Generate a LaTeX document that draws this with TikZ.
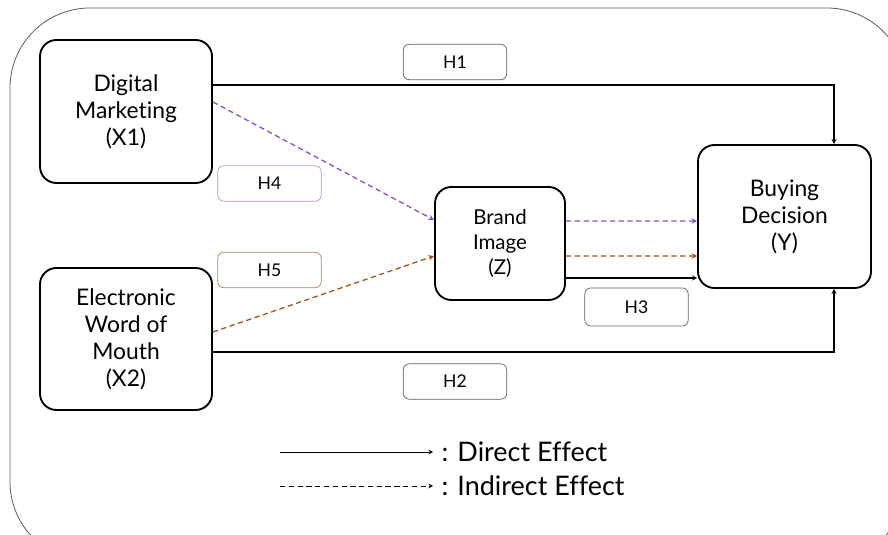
\documentclass[tikz,border=0pt]{standalone}
\usepackage{fontspec}
\setmainfont{Lato}[RawFeature=-liga]
\usepackage{tikz}
\usetikzlibrary{positioning, arrows, calc}

\definecolor{ljub}{RGB}{136,78,196}
\definecolor{ljubsv}{RGB}{180,145,215}
\definecolor{smedja}{RGB}{163,82,28}
\definecolor{smedjasv}{RGB}{185,125,88}
\definecolor{okvir}{RGB}{95,95,95}

\begin{document}
\begin{tikzpicture}[>=stealth,
    var/.style={rectangle, rounded corners=14pt, draw=black, line width=1.6pt,
                text centered, align=center, font=\fontsize{19.5}{23}\selectfont},
    hyp/.style={rectangle, rounded corners=5pt, draw=okvir, line width=0.6pt,
                minimum width=3.1cm, minimum height=1.06cm, font=\fontsize{15}{18}\selectfont},
    tok/.style={->, line width=0.9pt, draw=black},
    ind/.style={->, line width=1.1pt, dash pattern=on 4.5pt off 3pt}]

    \useasboundingbox (0,0) rectangle (26.64,16.05);
    \begin{scope}
        \clip (0,0) rectangle (26.64,16.05);
        \draw [okvir, line width=0.7pt, rounded corners=2.4cm] (0.3,15.81) rectangle (27.2,-0.8);
    \end{scope}

    % ---------------- varijable ----------------
    \node (x1) [var, minimum width=5.16cm, minimum height=4.29cm] at (3.78,12.705)  {Digital\\Marketing\\(X1)};
    \node (x2) [var, minimum width=5.16cm, minimum height=4.26cm] at (3.78,5.88)    {Electronic\\Word of\\Mouth\\(X2)};
    \node (z)  [var, minimum width=3.9cm,  minimum height=3.39cm, font=\fontsize{17.5}{21}\selectfont] at (15.0,8.745) {Brand\\Image\\(Z)};
    \node (y)  [var, minimum width=5.19cm, minimum height=4.29cm] at (23.535,9.555) {Buying\\Decision\\(Y)};

    % ---------------- hipoteze ----------------
    \node (h1) [hyp] at (13.65,14.19)  {H1};
    \node (h4) [hyp, draw=ljubsv] at (8.085,10.545) {H4};
    \node (h5) [hyp, draw=smedjasv] at (8.085,7.95) {H5};
    \node (h3) [hyp, minimum height=1.14cm] at (19.095,6.84) {H3};
    \node (h2) [hyp] at (13.65,4.605)  {H2};

    % ---------------- direktni uticaji ----------------
    \draw [tok] ([yshift=0.795cm]x1.east) -| ([xshift=1.485cm]y.north);
    \draw [tok] ([yshift=-0.39cm]x2.east) -| ([xshift=1.485cm]y.south);
    \draw [tok] ([yshift=-1.035cm]z.east) -- ([yshift=-1.845cm]y.west);

    % ---------------- indirektni uticaji ----------------
    \draw [ind, ljub] ([yshift=0.285cm]x1.east) -- ([yshift=0.705cm]z.west);
    \draw [ind, ljub] ([yshift=0.675cm]z.east) -- ([yshift=-0.135cm]y.west);
    \draw [ind, smedja] ([yshift=0.21cm]x2.east) -- ([yshift=-0.375cm]z.west);
    \draw [ind, smedja] ([yshift=-0.375cm]z.east) -- ([yshift=-1.185cm]y.west);

    % ---------------- legenda ----------------
    \coordinate (ld) at (8.4,2.49);
    \coordinate (li) at (8.4,1.47);
    \node (t1) [anchor=west, font=\fontsize{23}{27}\selectfont, inner sep=0.25cm] at (12.99,2.49) {: Direct Effect};
    \node (t2) [anchor=west, font=\fontsize{23}{27}\selectfont, inner sep=0.25cm] at (12.99,1.47) {: Indirect Effect};
    \draw [tok, line width=0.75pt] (ld) -- (t1);
    \draw [ind, line width=0.8pt] (li) -- (t2);
\end{tikzpicture}
\end{document}
